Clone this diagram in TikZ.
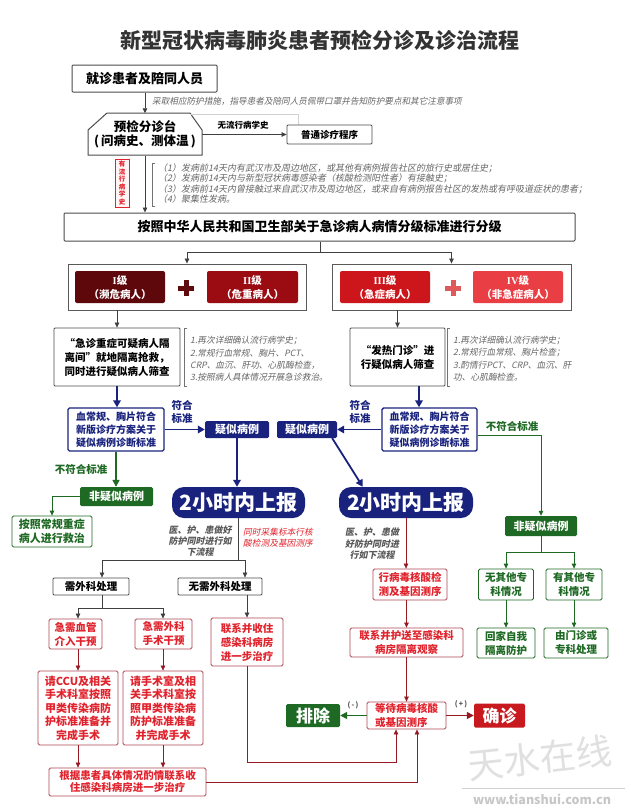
\documentclass[tikz,border=0pt]{standalone}
\usepackage{fontspec}
\setmainfont{Noto Sans CJK SC}
\newfontfamily\itf{Noto Sans CJK SC}[FakeSlant=0.2]
\newfontfamily\serf{Liberation Serif}
\usetikzlibrary{arrows.meta}
\newcommand\fsz[2]{\fontsize{#1}{#2}\selectfont}
\newcommand\rn[1]{{\serf\bfseries #1}}
\definecolor{navy}{RGB}{25,35,125}
\definecolor{gr}{RGB}{30,105,35}
\definecolor{rt}{RGB}{225,35,45}
\definecolor{rb}{RGB}{175,70,80}
\definecolor{dr}{RGB}{150,25,35}
\definecolor{lvA}{RGB}{95,8,12}
\definecolor{lvB}{RGB}{155,12,18}
\definecolor{lvC}{RGB}{205,22,28}
\definecolor{lvD}{RGB}{232,62,68}
\definecolor{plA}{RGB}{95,10,12}
\definecolor{plB}{RGB}{222,90,90}
\definecolor{confc}{RGB}{200,25,30}
\tikzset{
 base/.style={inner sep=0pt, align=center, font=\bfseries\fsz{10.5}{14}},
 bbox/.style={base, draw=black!70, line width=0.8pt, fill=white, rounded corners=1pt},
 rbox/.style={base, draw=rb, line width=0.8pt, fill=white, text=rt, rounded corners=1.5pt},
 gbox/.style={base, draw=gr, line width=0.8pt, fill=white, text=gr, rounded corners=1.5pt},
 nbox/.style={base, draw=navy, line width=1.4pt, fill=white, text=navy, rounded corners=1.5pt},
 nfill/.style={base, fill=navy, text=white, rounded corners=1.5pt},
 gfill/.style={base, fill=gr, text=white, rounded corners=1.5pt},
 lvl/.style={base, text=white, rounded corners=2pt, minimum width=90, minimum height=32},
 ln/.style={black!75, line width=0.7pt},
 arr/.style={-{Triangle[length=5pt,width=4.5pt]}, black!75, line width=0.7pt},
 rln/.style={dr, line width=0.7pt},
 rarr/.style={-{Triangle[length=5pt,width=4.5pt]}, dr, line width=0.7pt},
 rarrk/.style={-{Triangle[length=7pt,width=7pt]}, dr, line width=1.6pt},
 garr/.style={-{Triangle[length=5pt,width=4.5pt]}, gr, line width=0.8pt},
 garrk/.style={-{Triangle[length=7pt,width=7pt]}, gr, line width=1.6pt},
 gln/.style={gr, line width=0.8pt},
 narr/.style={-{Triangle[length=7pt,width=7.5pt]}, navy, line width=1.8pt},
 note/.style={inner sep=0pt, anchor=west, text=black!60, font=\itf\fsz{9}{11}},
 notesm/.style={inner sep=0pt, anchor=west, text=black!60, font=\itf\fsz{8.7}{10}},
 brk/.style={black!55, line width=0.6pt},
}
\begin{document}
\begin{tikzpicture}[x=1pt,y=-1pt]
\fill[white] (0,0) rectangle (630,811);
\useasboundingbox (0,0) rectangle (630,811);

% title
\node[font=\bfseries\fsz{21}{24}, text=black!80] (title) at (320,40) {新型冠状病毒肺炎患者预检分诊及诊治流程};

% visit
\node[bbox, line width=1pt, font=\bfseries\fsz{13}{15}, minimum width=145, minimum height=27] (visit) at (144.5,78.5) {就诊患者及陪同人员};
\node[notesm, font=\itf\fsz{8.6}{10}] (protect) at (152,101) {采取相应防护措施，指导患者及陪同人员佩带口罩并告知防护要点和其它注意事项};

% triage
\draw[black!70, line width=1pt, fill=white] (107,113) -- (190,113) -- (202,130) -- (202,155) -- (88,155) -- (88,130) -- cycle;
\node[base, font=\bfseries\fsz{12.5}{14.5}, minimum width=114, minimum height=42] (triage) at (145,134.5) {预检分诊台\\(\,问病史、测体温\,)};
\draw[arr] (visit.south -| triage) -- (triage.north);

\draw[black!18, line width=0.6pt] (190,114) -- (298,114) -- (298,125);
\node[bbox, font=\bfseries\fsz{9.5}{11}, minimum width=85, minimum height=19] (normal) at (329.5,134.5) {普通诊疗程序};
\draw[arr] (triage.east) -- (normal.west);
\node[font=\bfseries\fsz{8.5}{10}] (labno) at (243,125.5) {无流行病学史};

% epi history
\node[draw=rt, fill=red!4, line width=0.6pt, text=rt, font=\bfseries\fsz{6.5}{7.5}, align=center, inner sep=0.5pt, minimum width=14, minimum height=48] (epi) at (122,183) {有\\流\\行\\病\\学\\史};
\draw[brk] (155,163) -- (152,163) -- (152,206) -- (155,206);
\node[note] (c1) at (158,168) {（1）发病前14天内有武汉市及周边地区，或其他有病例报告社区的旅行史或居住史；};
\node[note] (c2) at (158,178.5) {（2）发病前14天内与新型冠状病毒感染者（核酸检测阳性者）有接触史；};
\node[note] (c3) at (158,189) {（3）发病前14天内曾接触过来自武汉市及周边地区，或来自有病例报告社区的发热或有呼吸道症状的患者；};
\node[note] (c4) at (158,199.5) {（4）聚集性发病。};

% grading
\node[bbox, line width=1pt, font=\bfseries\fsz{13}{15}, minimum width=511, minimum height=28] (grade) at (319.5,227) {按照中华人民共和国卫生部关于急诊病人病情分级标准进行分级};
\draw[arr] (triage.south) -- (triage.south |- grade.north);

\node[draw=black!65, line width=0.9pt, minimum width=238, minimum height=46, inner sep=0pt] (grpL) at (187,287) {};
\node[draw=black!65, line width=0.9pt, minimum width=239, minimum height=46, inner sep=0pt] (grpR) at (451.5,287) {};
\coordinate (gsplit) at (320,252);
\draw[ln] (grade.south -| gsplit) -- (gsplit);
\draw[arr] (gsplit) -| (grpL.north);
\draw[arr] (gsplit) -| (grpR.north);

\node[lvl, fill=lvA] (L1) at (120,287) {\rn{I}级\\（濒危病人）};
\node[lvl, fill=lvB, minimum width=91] (L2) at (252.5,287) {\rn{II}级\\（危重病人）};
\node[lvl, fill=lvC] (L3) at (385,287) {\rn{III}级\\（急症病人）};
\node[lvl, fill=lvD] (L4) at (518,287) {\rn{IV}级\\（非急症病人）};
\fill[plA] (178,285.5) rectangle (194,290.5);
\fill[plA] (183.5,280) rectangle (188.5,296);
\fill[plB] (445,285.5) rectangle (461,290.5);
\fill[plB] (450.5,280) rectangle (455.5,296);

% second level
\node[bbox, minimum width=126, minimum height=58] (emer) at (117,357) {“急诊重症可疑病人隔\\离间”就地隔离抢救，\\同时进行疑似病人筛查};
\draw[arr] (grpL.south -| emer) -- (emer.north);
\draw[brk] (187,328) -- (184,328) -- (184,386) -- (187,386);
\node[notesm] (e1) at (190,341) {1.再次详细确认流行病学史；};
\node[notesm] (e2) at (190,353) {2.常规行血常规、胸片、PCT、};
\node[notesm] (e3) at (190,365) {CRP、血沉、肝功、心肌酶检查，};
\node[notesm] (e4) at (190,377) {3.按照病人具体情况开展急诊救治。};

\node[bbox, minimum width=95, minimum height=58] (fever) at (397.5,357) {“发热门诊”进\\行疑似病人筛查};
\draw[arr] (grpR.south -| fever) -- (fever.north);
\draw[brk] (450,328) -- (447,328) -- (447,386) -- (450,386);
\node[notesm] (f1) at (453,341) {1.再次详细确认流行病学史；};
\node[notesm] (f2) at (453,353) {2.常规行血常规、胸片检查；};
\node[notesm] (f3) at (453,365) {3.酌情行PCT、CRP、血沉、肝};
\node[notesm] (f4) at (453,377) {功、心肌酶检查。};

% blue criteria
\node[nbox, font=\bfseries\fsz{10}{13}, minimum width=96, minimum height=43] (bL) at (116,429.5) {血常规、胸片符合\\新版诊疗方案关于\\疑似病例诊断标准};
\node[nbox, font=\bfseries\fsz{10}{13}, minimum width=95, minimum height=43] (bR) at (429.5,429.5) {血常规、胸片符合\\新版诊疗方案关于\\疑似病例诊断标准};
\draw[narr] (emer.south) -- (emer.south |- bL.north);
\coordinate (xf) at (419,0);
\draw[narr] (fever.south -| xf) -- (bR.north -| xf);

\node[nfill, font=\bfseries\fsz{11}{13}, minimum width=64, minimum height=17] (sL) at (237,429.5) {疑似病例};
\node[nfill, font=\bfseries\fsz{11}{13}, minimum width=60, minimum height=17] (sR) at (307,429.5) {疑似病例};
\draw[narr] (bL.east) -- (sL.west);
\draw[narr] (bR.west) -- (sR.east);
\node[font=\bfseries\fsz{10.5}{13}, text=navy, align=center, inner sep=0pt] (okL) at (182,411.5) {符合\\标准};
\node[font=\bfseries\fsz{10.5}{13}, text=navy, align=center, inner sep=0pt] (okR) at (360,411.5) {符合\\标准};

\node[nfill, rounded corners=12pt, font=\bfseries\fsz{21}{24}, minimum width=133, minimum height=31] (rL) at (238.5,502.5) {2小时内上报};
\node[nfill, rounded corners=12pt, font=\bfseries\fsz{21}{24}, minimum width=134, minimum height=31] (rR) at (406,502.5) {2小时内上报};
\draw[narr] (sL.south) -- (sL.south |- rL.north);
\draw[narr] ([xshift=-5]sR.south east) -- ([xshift=24]rR.north west);

% green left
\node[text=gr, font=\bfseries\fsz{10.5}{12}, inner sep=0pt] (noL) at (81,469) {不符合标准};
\node[gfill, font=\bfseries\fsz{11}{13}, minimum width=73, minimum height=19] (nsL) at (116.5,496.5) {非疑似病例};
\draw[garrk] (bL.south) -- (bL.south |- nsL.north);
\node[gbox, font=\bfseries\fsz{11}{14}, minimum width=80, minimum height=31] (normtreat) at (52,531.5) {按照常规重症\\病人进行救治};
\draw[garr] (nsL.west) -| (normtreat.north);

% green right
\node[text=gr, font=\bfseries\fsz{10.5}{12}, inner sep=0pt] (noR) at (512,426) {不符合标准};
\node[gfill, font=\bfseries\fsz{11}{13}, minimum width=72, minimum height=20] (nsR) at (541,526) {非疑似病例};
\draw[garr] ([yshift=-5.5]bR.east) -| (nsR.north);
\coordinate (gs) at (541,552);
\node[gbox, minimum width=55, minimum height=31] (noOther) at (506,584.5) {无其他专\\科情况};
\node[gbox, minimum width=56, minimum height=31] (hasOther) at (574,584.5) {有其他专\\科情况};
\draw[gln] (nsR.south) -- (gs);
\draw[garr] (gs) -| (noOther.north);
\draw[garr] (gs) -| (hasOther.north);
\node[gbox, minimum width=58, minimum height=30] (home) at (506,643) {回家自我\\隔离防护};
\node[gbox, minimum width=64, minimum height=30] (clinic) at (576,643) {由门诊或\\专科处理};
\draw[garr] (noOther.south) -- (home.north);
\draw[garr] (hasOther.south) -- (hasOther.south |- clinic.north);

% left lower
\node[text=black!65, font=\itf\bfseries\fsz{9}{11}, align=center, inner sep=0pt] (hcL) at (200,541) {医、护、患做好\\防护同时进行如\\下流程};
\node[text=rt, font=\itf\fsz{8.7}{11}, align=center, inner sep=0pt] (sampling) at (278,538) {同时采集标本行核\\酸检测及基因测序};
\node[bbox, minimum width=76, minimum height=17] (surg) at (91,586.5) {需外科处理};
\node[bbox, minimum width=84, minimum height=17] (nosurg) at (220,586.5) {无需外科处理};
\coordinate (rs) at (238.5,560);
\coordinate (sa) at (102,560);
\coordinate (sb) at (245,560);
\draw[ln] (rL.south) -- (rs);
\draw[ln] (sa) -- (sb);
\draw[arr] (sa) -- (sa |- surg.north);
\draw[arr] (sb) -- (sb |- nosurg.north);

\node[rbox, minimum width=53, minimum height=30] (vasc) at (75.5,634) {急需血管\\介入干预};
\node[rbox, minimum width=57, minimum height=30] (surgi) at (163.5,634) {急需外科\\手术干预};
\coordinate (s2) at (102,608);
\coordinate (s2a) at (78,608);
\coordinate (s2b) at (163,608);
\draw[ln] (surg.south -| s2) -- (s2);
\draw[ln] (s2a) -- (s2b);
\draw[arr] (s2a) -- (s2a |- vasc.north);
\draw[arr] (s2b) -- (s2b |- surgi.north);

\node[rbox, minimum width=72, minimum height=48] (admit) at (247,642) {联系并收住\\感染科病房\\进一步治疗};
\coordinate (xa) at (247,0);
\draw[arr] (nosurg.south -| xa) -- (admit.north);

\node[rbox, font=\bfseries\fsz{11}{13.5}, minimum width=80, minimum height=74] (ccu) at (78,708) {请CCU及相关\\手术科室按照\\甲类传染病防\\护标准准备并\\完成手术};
\node[rbox, font=\bfseries\fsz{11}{13.5}, minimum width=80, minimum height=74] (orm) at (163,708) {请手术室及相\\关手术科室按\\照甲类传染病\\防护标准准备\\并完成手术};
\draw[rarr] (vasc.south -| ccu) -- (ccu.north);
\draw[rarr] (surgi.south -| orm) -- (orm.north);

\node[rbox, font=\bfseries\fsz{10.5}{12}, minimum width=157, minimum height=28] (based) at (127.5,782) {根据患者具体情况酌情联系收\\住感染科病房进一步治疗};
\draw[rarr] (ccu.south) -- (ccu.south |- based.north);
\draw[rarr] (orm.south) -- (orm.south |- based.north);

% right lower
\node[text=black!65, font=\itf\bfseries\fsz{9}{11.5}, align=center, inner sep=0pt] (hcR) at (372,544) {医、护、患做\\好防护同时进\\行如下流程};
\node[rbox, minimum width=74, minimum height=31] (nat) at (410,584.5) {行病毒核酸检\\测及基因测序};
\draw[rarr] (rR.south) -- (rR.south |- nat.north);
\node[rbox, minimum width=113, minimum height=29] (iso) at (406.5,642.5) {联系并护送至感染科\\病房隔离观察};
\draw[rarr] (nat.south -| iso) -- (iso.north);
\node[rbox, align=left, minimum width=79, minimum height=27] (wait) at (406.5,715.5) {等待病毒核酸\\或基因测序};
\draw[rarr] (iso.south) -- (wait.north);

\node[gfill, font=\bfseries\fsz{17}{19}, minimum width=54, minimum height=23] (excl) at (313,715.5) {排除};
\node[base, fill=confc, text=white, rounded corners=1.5pt, font=\bfseries\fsz{17}{19}, minimum width=51, minimum height=24] (conf) at (499.5,715.5) {确诊};
\draw[garrk] (wait.west) -- (excl.east);
\draw[rarrk] (wait.east) -- (conf.west);
\node[font=\bfseries\fsz{7}{8}, text=black!70, inner sep=0pt] (minus) at (353,705) {(\,-\,)};
\node[font=\bfseries\fsz{7}{8}, text=black!70, inner sep=0pt] (plus) at (461,704) {(\,+\,)};

\coordinate (ra) at (247,762);
\draw[rln] (admit.south) -- (ra);
\draw[rarr] (ra) -| ([xshift=-10.5]wait.south);
\draw[rarr] (based.east) -| ([xshift=10.5]wait.south);

% watermark
\node[text=black!12, font=\fsz{36}{38}, rotate=6, inner sep=0pt] (wm) at (540,758) {天水在线};
\draw[black!18, line width=0.6pt] (462,788) -- (625,788);
\node[text=black!22, font=\bfseries\fsz{12.5}{14}, inner sep=0pt] (wmurl) at (542,799) {www.tianshui.com.cn};
\end{tikzpicture}
\end{document}
